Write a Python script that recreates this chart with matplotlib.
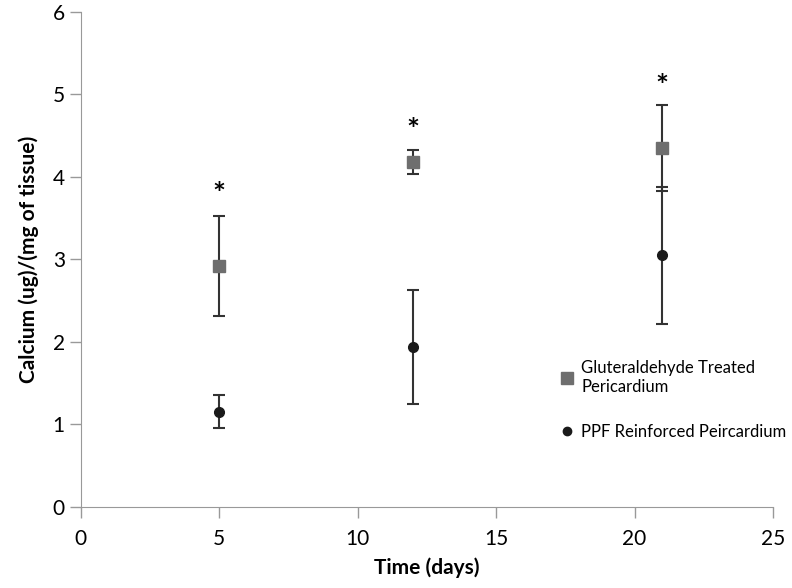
import matplotlib.pyplot as plt
from matplotlib.lines import Line2D

plt.rcParams['font.family'] = ['Lato', 'DejaVu Sans']

days = [5, 12, 21]
glut_mean = [2.92, 4.18, 4.35]
glut_err = [0.61, 0.15, 0.52]
ppf_mean = [1.15, 1.94, 3.05]
ppf_err = [0.20, 0.69, 0.83]
star_y = [3.78, 4.56, 5.09]

fig = plt.figure(figsize=(7.92, 5.88), dpi=100)
ax = fig.add_axes([0.102, 0.138, 0.874, 0.842])

ax.errorbar(days, glut_mean, yerr=glut_err, fmt='none', ecolor='#333333',
            elinewidth=1.5, capsize=4, capthick=1.5, zorder=2)
ax.errorbar(days, ppf_mean, yerr=ppf_err, fmt='none', ecolor='#333333',
            elinewidth=1.5, capsize=4, capthick=1.5, zorder=2)
ax.plot(days, glut_mean, 's', color='#6e6e6e', markersize=8, linestyle='none', zorder=3)
ax.plot(days, ppf_mean, 'o', color='#1a1a1a', markersize=7, linestyle='none', zorder=3)

for x, y in zip(days, star_y):
    ax.text(x, y, '*', ha='center', va='center', fontsize=22, fontweight='bold')

handles = [
    Line2D([], [], marker='s', color='#6e6e6e', linestyle='none', markersize=8),
    Line2D([], [], marker='o', color='#1a1a1a', linestyle='none', markersize=6),
]
leg = ax.legend(handles, ['Gluteraldehyde Treated\nPericardium', 'PPF Reinforced Peircardium'],
                loc='upper left', bbox_to_anchor=(0.68, 0.31), frameon=False,
                fontsize=12, handletextpad=0.3, handlelength=1.1, labelspacing=1.7,
                borderaxespad=0)
for t in leg.get_texts():
    t.set_linespacing(1.25)

ax.set_xlim(0, 25)
ax.set_ylim(0, 6)
ax.set_xticks([0, 5, 10, 15, 20, 25])
ax.set_yticks([0, 1, 2, 3, 4, 5, 6])
for s in ['top', 'right']:
    ax.spines[s].set_visible(False)
for s in ['left', 'bottom']:
    ax.spines[s].set_color('#999999')
ax.tick_params(axis='both', colors='#999999', labelcolor='black', labelsize=15, length=8, width=1)
ax.tick_params(axis='x', pad=8)
ax.set_xlabel('Time (days)', fontsize=15, fontweight='bold', labelpad=6)
ax.set_ylabel('Calcium (ug)/(mg of tissue)', fontsize=15, fontweight='bold', labelpad=10)

fig.savefig('out.png', dpi=100)
